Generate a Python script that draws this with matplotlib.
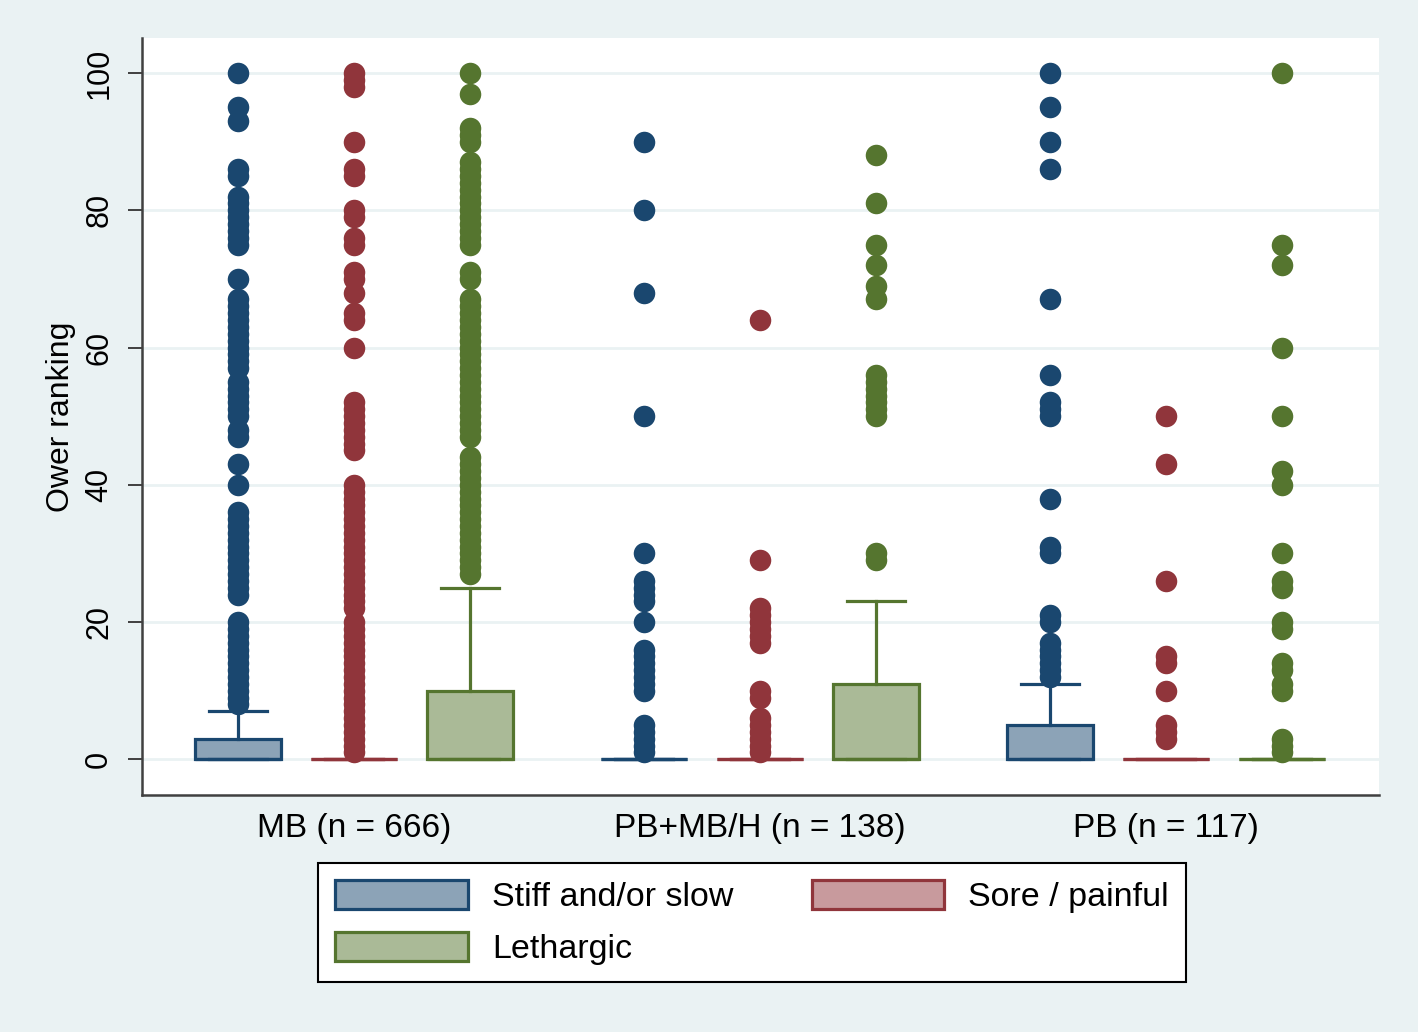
import matplotlib
matplotlib.use("Agg")
import matplotlib.pyplot as plt
from matplotlib.patches import Patch

plt.rcParams['font.family'] = ['Liberation Sans', 'DejaVu Sans']

# ---------------- data ----------------
categories = ["MB (n = 666)", "PB+MB/H (n = 138)", "PB (n = 117)"]
series = ["Stiff and/or slow", "Sore / painful", "Lethargic"]
yticks = [0, 20, 40, 60, 80, 100]

# box statistics per group (MB, PB+MB/H, PB)
stiff_q1 = [0, 0, 0]
stiff_med = [0, 0, 0]
stiff_q3 = [3, 0, 5]
stiff_whislo = [0, 0, 0]
stiff_whishi = [7, 0, 11]

sore_q1 = [0, 0, 0]
sore_med = [0, 0, 0]
sore_q3 = [0, 0, 0]
sore_whislo = [0, 0, 0]
sore_whishi = [0, 0, 0]

leth_q1 = [0, 0, 0]
leth_med = [0, 0, 0]
leth_q3 = [10, 11, 0]
leth_whislo = [0, 0, 0]
leth_whishi = [25, 23, 0]

# outliers
stiff_out_mb = [100, 95, 93, 86, 85, 82, 81, 80, 79, 78, 77, 76, 75, 70, 67, 66, 65, 64,
                63, 62, 61, 60, 59, 58, 57, 55, 54, 53, 52, 51, 50, 48, 47, 43, 40, 36,
                35, 34, 33, 32, 31, 30, 29, 28, 27, 26, 25, 24, 20, 19, 18, 17, 16, 15,
                14, 13, 12, 11, 10, 9, 8]
stiff_out_pbmb = [90, 80, 68, 50, 30, 26, 25, 24, 23, 20, 16, 15, 14, 13, 12, 11, 10,
                  5, 4, 3, 2, 1]
stiff_out_pb = [100, 95, 90, 86, 67, 56, 52, 51, 50, 38, 31, 30, 21, 20, 17, 16, 15,
                14, 13, 12]

sore_out_mb = [100, 99, 98, 90, 86, 85, 80, 79, 76, 75, 71, 70, 68, 65, 64, 60, 52, 51,
               50, 49, 48, 47, 46, 45, 40, 39, 38, 37, 36, 35, 34, 33, 32, 31, 30, 29,
               28, 27, 26, 25, 24, 23, 22, 20, 19, 18, 17, 16, 15, 14, 13, 12, 11, 10,
               9, 8, 7, 6, 5, 4, 3, 2, 1]
sore_out_pbmb = [64, 29, 22, 21, 20, 19, 18, 17, 10, 9, 6, 5, 4, 3, 2, 1]
sore_out_pb = [50, 43, 26, 15, 14, 10, 5, 4, 3]

leth_out_mb = [100, 97, 92, 91, 90, 87, 86, 85, 84, 83, 82, 81, 80, 79, 78, 77, 76, 75,
               71, 70, 67, 66, 65, 64, 63, 62, 61, 60, 59, 58, 57, 56, 55, 54, 53,
               52, 51, 50, 49, 48, 47, 44, 43, 42, 41, 40, 39, 38, 37, 36, 35, 34, 33,
               32, 31, 30, 29, 28, 27]
leth_out_pbmb = [88, 81, 75, 72, 69, 67, 56, 55, 54, 53, 52, 51, 50, 30, 29]
leth_out_pb = [100, 75, 72, 60, 50, 42, 40, 30, 26, 25, 20, 19, 14, 13, 11, 10, 3, 2, 1]

# ---------------- styles ----------------
BG = '#EAF2F3'
line_colors = ['#1A476F', '#90353B', '#55752F']
fill_colors = ['#8CA3B7', '#C89A9D', '#AABA97']
group_pos = [0, 3.5, 7]
offsets = [0, 1, 2]
LW = 2.3

all_stats = [
    (stiff_q1, stiff_med, stiff_q3, stiff_whislo, stiff_whishi,
     [stiff_out_mb, stiff_out_pbmb, stiff_out_pb]),
    (sore_q1, sore_med, sore_q3, sore_whislo, sore_whishi,
     [sore_out_mb, sore_out_pbmb, sore_out_pb]),
    (leth_q1, leth_med, leth_q3, leth_whislo, leth_whishi,
     [leth_out_mb, leth_out_pbmb, leth_out_pb]),
]

fig = plt.figure(figsize=(14.18, 10.32), dpi=100, facecolor=BG)
ax = fig.add_axes([142 / 1418, 1 - 795 / 1032, (1379 - 142) / 1418, (795 - 38) / 1032])
ax.set_facecolor('white')

for si, (q1, med, q3, wlo, whi, outs) in enumerate(all_stats):
    lc, fc = line_colors[si], fill_colors[si]
    for gi in range(3):
        st = dict(q1=q1[gi], med=med[gi], q3=q3[gi], whislo=wlo[gi], whishi=whi[gi],
                  fliers=outs[gi])
        ax.bxp([st], positions=[group_pos[gi] + offsets[si]], widths=0.74,
               capwidths=0.5, patch_artist=True, manage_ticks=False,
               boxprops=dict(facecolor=fc, edgecolor=lc, linewidth=LW),
               whiskerprops=dict(color=lc, linewidth=LW),
               capprops=dict(color=lc, linewidth=LW),
               medianprops=dict(color=lc, linewidth=LW),
               flierprops=dict(marker='o', markerfacecolor=lc, markeredgecolor=lc,
                               markersize=15.5, markeredgewidth=0))

ax.set_xlim(-0.828, 9.836)
ax.set_ylim(-5.2, 105.1)

ax.yaxis.grid(True, color=BG, linewidth=2)
ax.set_axisbelow(True)
for s in ['top', 'right']:
    ax.spines[s].set_visible(False)
for s in ['left', 'bottom']:
    ax.spines[s].set_color('#404040')
    ax.spines[s].set_linewidth(1.8)

ax.set_yticks(yticks)
ax.set_yticklabels([str(t) for t in yticks], rotation=90, va='center', fontsize=22)
ax.tick_params(axis='y', length=10, width=1.4, color='#404040', pad=10)
ax.set_ylabel("Ower ranking", fontsize=23, labelpad=6)

ax.set_xticks([group_pos[g] + 1 for g in range(3)])
ax.set_xticklabels(categories, fontsize=24)
ax.tick_params(axis='x', length=0, pad=13)

handles = [Patch(facecolor=fill_colors[0], edgecolor=line_colors[0], linewidth=LW, label=series[0]),
           Patch(facecolor=fill_colors[2], edgecolor=line_colors[2], linewidth=LW, label=series[2]),
           Patch(facecolor=fill_colors[1], edgecolor=line_colors[1], linewidth=LW, label=series[1])]
leg = fig.legend(handles=handles, ncol=2, loc='center',
                 bbox_to_anchor=(752 / 1418, 1 - 922.5 / 1032),
                 frameon=True, fancybox=False, framealpha=1, facecolor='white',
                 fontsize=24.5,
                 handlelength=3.9, handleheight=0.95, handletextpad=0.7,
                 columnspacing=2.3, borderpad=0.5, labelspacing=0.55)
leg.get_frame().set_edgecolor('black')
leg.get_frame().set_linewidth(1.5)

fig.savefig('out.png', dpi=100, facecolor=BG)
